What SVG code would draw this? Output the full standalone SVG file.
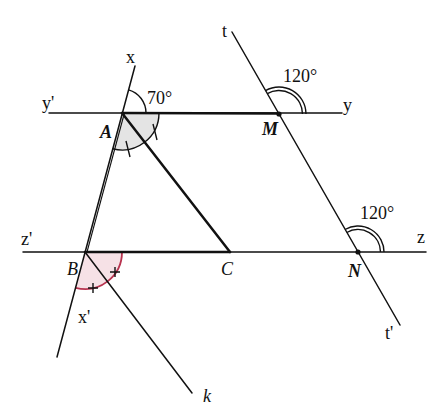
<svg xmlns="http://www.w3.org/2000/svg" width="437" height="416" viewBox="0 0 437 416">
<style>
.ln{stroke:#111;fill:none;stroke-width:1.5;stroke-linecap:round}
.thk{stroke:#111;fill:none;stroke-width:2.5;stroke-linecap:round}
.lbl{font-family:"Liberation Serif",serif;font-size:18px;fill:#111}
.it{font-style:italic}
.bi{font-style:italic;font-weight:bold}
.arc{stroke:#111;fill:none;stroke-width:1.4}
</style>
<rect width="437" height="416" fill="#fff"/>
<g id="angles">
<path d="M122,113 L159,113 A37,37 0 0 1 112.5,148.7 Z" fill="#e4e4e4" stroke="none"/>
<path d="M159,113 A37,37 0 0 1 112.5,148.7" class="arc"/>
<path d="M153,124 L157,140 M126,141 L130,157" class="arc"/>
<path d="M85,252 L122,252 A37,37 0 0 1 75.5,287.8 Z" fill="#f6e1e6" stroke="none"/>
<path d="M122,252 A37,37 0 0 1 75.5,287.8" fill="none" stroke="#b8334f" stroke-width="1.8"/>
<path d="M110,272 L120,272 M115,267 L115,277 M88,288 L98,288 M93,283 L93,293" class="arc"/>
<path d="M146,113 A24,24 0 0 0 128.6,89.9" class="arc"/>
<path d="M306,114 A27,27 0 0 0 265.5,90.6 M302.5,114 A23.5,23.5 0 0 0 267.3,93.6" class="arc"/>
<path d="M384,252 A26,26 0 0 0 345,229.5 M380.5,252 A22.5,22.5 0 0 0 346.8,232.5" class="arc"/>
</g>
<g id="connectors">
<line x1="49" y1="113" x2="342" y2="113" class="ln"/>
<line x1="122" y1="113" x2="279" y2="113.5" class="thk"/>
<line x1="23" y1="252" x2="426" y2="252" class="ln"/>
<line x1="85" y1="252" x2="230" y2="252" class="thk"/>
<line x1="135" y1="66" x2="57" y2="357" class="ln"/>
<line x1="124.3" y1="113.5" x2="87" y2="252" stroke="#111" stroke-width="1.1"/>
<line x1="122" y1="113" x2="230" y2="252" class="thk"/>
<line x1="85" y1="252" x2="192" y2="393" class="ln"/>
<line x1="232" y1="32" x2="400" y2="325" class="ln"/>
</g>
<g id="A"><text x="100" y="138" class="lbl bi">A</text></g>
<g id="B"><text x="67" y="275" class="lbl it">B</text></g>
<g id="C"><text x="221" y="275" class="lbl it">C</text></g>
<g id="M"><circle cx="279" cy="114" r="2.6" fill="#111"/><text x="262" y="135" class="lbl bi">M</text></g>
<g id="N"><circle cx="358" cy="252" r="2.6" fill="#111"/><text x="348" y="277" class="lbl bi">N</text></g>
<g id="labels">
<text x="126" y="63" class="lbl">x</text>
<text x="78" y="323" class="lbl">x'</text>
<text x="42" y="109" class="lbl">y'</text>
<text x="343" y="111" class="lbl">y</text>
<text x="21" y="245" class="lbl">z'</text>
<text x="417" y="243" class="lbl">z</text>
<text x="222" y="37" class="lbl">t</text>
<text x="385" y="339" class="lbl">t'</text>
<text x="203" y="402" class="lbl it">k</text>
<text x="147" y="104" class="lbl">70°</text>
<text x="283" y="82" class="lbl">120°</text>
<text x="360" y="219" class="lbl">120°</text>
</g>
</svg>
